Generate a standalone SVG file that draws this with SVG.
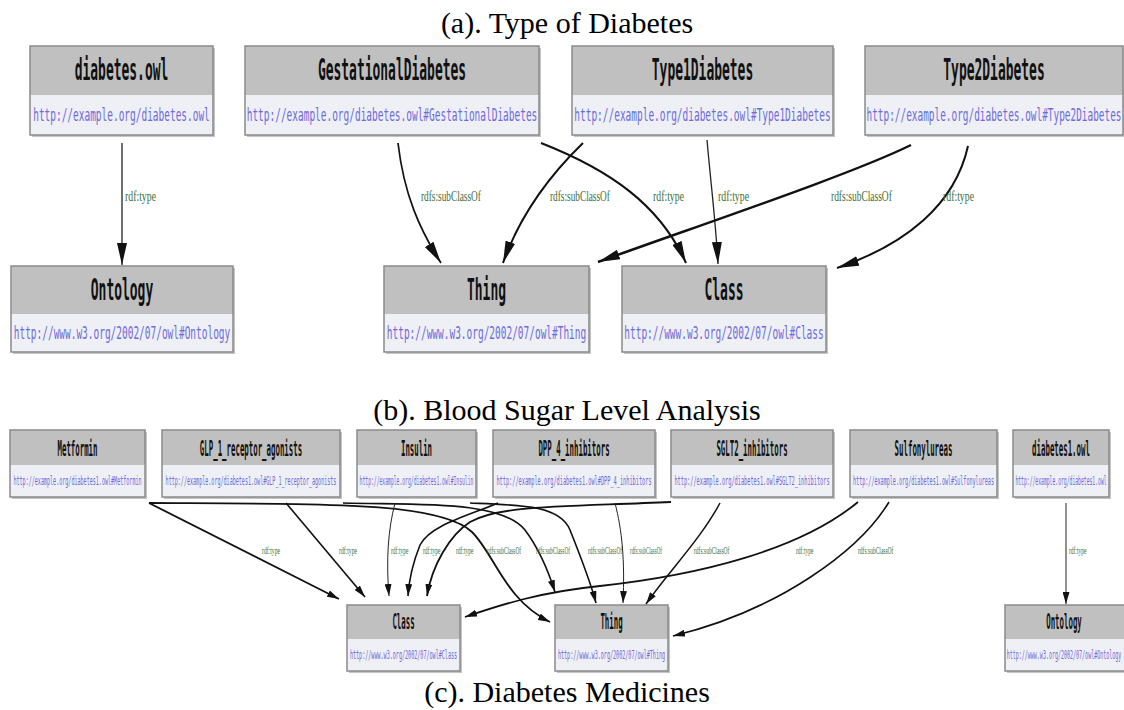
<svg xmlns="http://www.w3.org/2000/svg" width="1124" height="710" viewBox="0 0 1124 710">
<defs>
<style>
.sh{fill:#c4c4c4}
.hb{fill:#c0c0c0}
.ub{fill:#efeff6}
.bx{fill:none;stroke:#8a8a8a;stroke-width:1.5}
.ht{font-family:"DejaVu Sans Mono","Liberation Mono",monospace;font-weight:bold;fill:#111;text-anchor:middle}
.h1{font-size:31px}
.h2{font-size:21px}
.ut{font-family:"DejaVu Sans Mono","Liberation Mono",monospace;fill:#6c6cd8;text-anchor:middle}
.u1{font-size:18px}
.u2{font-size:13px}
.el{font-family:"Liberation Serif","Times New Roman",serif;fill:#3d6e3d}
.l1{font-size:15px}
.l2{font-size:11px}
.e{fill:none;stroke:#111;stroke-width:2}
.et{fill:none;stroke:#222;stroke-width:1.3}
.ttl{font-family:"Liberation Serif","Times New Roman",serif;font-size:30px;fill:#000;text-anchor:middle}
</style>
<marker id="aL" viewBox="0 0 22 10" refX="22" refY="5" markerWidth="22" markerHeight="10" markerUnits="userSpaceOnUse" orient="auto"><path d="M0,0 L22,5 L0,10 z" fill="#111"/></marker>
<marker id="aS" viewBox="0 0 12 7" refX="12" refY="3.5" markerWidth="12" markerHeight="7" markerUnits="userSpaceOnUse" orient="auto"><path d="M0,0 L12,3.5 L0,7 z" fill="#111"/></marker>
</defs>
<rect width="1124" height="710" fill="#fff"/>

<text class="ttl" x="567" y="33">(a). Type of Diabetes</text>
<text class="ttl" x="567" y="420">(b). Blood Sugar Level Analysis</text>
<text class="ttl" x="567" y="702">(c). Diabetes Medicines</text>

<!-- (a) nodes -->
<g id="a-diabetes-owl">
<rect class="sh" x="32" y="48" width="183" height="89"/><rect class="hb" x="30" y="46" width="183" height="49"/><rect class="ub" x="30" y="95" width="183" height="40"/><rect class="bx" x="30" y="46" width="183" height="89"/>
<text class="ht h1" transform="translate(121.5,80) scale(0.418,1)">diabetes.owl</text>
<text class="ut u1" transform="translate(121.5,121) scale(0.526,1)">http://example.org/diabetes.owl</text>
</g>
<g id="a-gestational">
<rect class="sh" x="247" y="48" width="294" height="89"/><rect class="hb" x="245" y="46" width="294" height="49"/><rect class="ub" x="245" y="95" width="294" height="40"/><rect class="bx" x="245" y="46" width="294" height="89"/>
<text class="ht h1" transform="translate(392,80) scale(0.418,1)">GestationalDiabetes</text>
<text class="ut u1" transform="translate(392,121) scale(0.526,1)">http://example.org/diabetes.owl#GestationalDiabetes</text>
</g>
<g id="a-type1">
<rect class="sh" x="574" y="48" width="261" height="89"/><rect class="hb" x="572" y="46" width="261" height="49"/><rect class="ub" x="572" y="95" width="261" height="40"/><rect class="bx" x="572" y="46" width="261" height="89"/>
<text class="ht h1" transform="translate(702.5,80) scale(0.418,1)">Type1Diabetes</text>
<text class="ut u1" transform="translate(702.5,121) scale(0.526,1)">http://example.org/diabetes.owl#Type1Diabetes</text>
</g>
<g id="a-type2">
<rect class="sh" x="867" y="48" width="258" height="89"/><rect class="hb" x="865" y="46" width="258" height="49"/><rect class="ub" x="865" y="95" width="258" height="40"/><rect class="bx" x="865" y="46" width="258" height="89"/>
<text class="ht h1" transform="translate(994,80) scale(0.418,1)">Type2Diabetes</text>
<text class="ut u1" transform="translate(994,121) scale(0.523,1)">http://example.org/diabetes.owl#Type2Diabetes</text>
</g>
<g id="a-ontology">
<rect class="sh" x="13" y="268" width="222" height="86"/><rect class="hb" x="11" y="266" width="222" height="48"/><rect class="ub" x="11" y="314" width="222" height="38"/><rect class="bx" x="11" y="266" width="222" height="86"/>
<text class="ht h1" transform="translate(122,300) scale(0.418,1)">Ontology</text>
<text class="ut u1" transform="translate(122,339) scale(0.526,1)">http://www.w3.org/2002/07/owl#Ontology</text>
</g>
<g id="a-thing">
<rect class="sh" x="386" y="268" width="205" height="86"/><rect class="hb" x="384" y="266" width="205" height="48"/><rect class="ub" x="384" y="314" width="205" height="38"/><rect class="bx" x="384" y="266" width="205" height="86"/>
<text class="ht h1" transform="translate(486.5,300) scale(0.418,1)">Thing</text>
<text class="ut u1" transform="translate(486.5,339) scale(0.526,1)">http://www.w3.org/2002/07/owl#Thing</text>
</g>
<g id="a-class">
<rect class="sh" x="624" y="268" width="204" height="86"/><rect class="hb" x="622" y="266" width="204" height="48"/><rect class="ub" x="622" y="314" width="204" height="38"/><rect class="bx" x="622" y="266" width="204" height="86"/>
<text class="ht h1" transform="translate(724,300) scale(0.418,1)">Class</text>
<text class="ut u1" transform="translate(724,339) scale(0.526,1)">http://www.w3.org/2002/07/owl#Class</text>
</g>

<!-- (a) connectors -->
<g id="a-edges">
<path class="et" d="M122,143 L122,265" marker-end="url(#aL)"/>
<path class="e" style="stroke-width:1.7" d="M398,143 C404,195 420,230 441,263" marker-end="url(#aL)"/>
<path class="e" d="M541,143 C610,170 660,205 686,263" marker-end="url(#aL)"/>
<path class="e" d="M583,143 C550,175 520,215 503,263" marker-end="url(#aL)"/>
<path class="et" d="M707,140 C711,185 716,225 718,264" marker-end="url(#aL)"/>
<path class="e" style="stroke-width:2.4" d="M911,145 C850,175 700,225 598,262" marker-end="url(#aL)"/>
<path class="e" d="M968,146 C955,205 905,245 837,268" marker-end="url(#aL)"/>
<text class="el l1" transform="translate(125,201) scale(0.653,1)">rdf:type</text>
<text class="el l1" transform="translate(421,201) scale(0.62,1)">rdfs:subClassOf</text>
<text class="el l1" transform="translate(550,201) scale(0.62,1)">rdfs:subClassOf</text>
<text class="el l1" transform="translate(653,201) scale(0.653,1)">rdf:type</text>
<text class="el l1" transform="translate(718,201) scale(0.653,1)">rdf:type</text>
<text class="el l1" transform="translate(831,201) scale(0.63,1)">rdfs:subClassOf</text>
<text class="el l1" transform="translate(943,201) scale(0.653,1)">rdf:type</text>
</g>

<!-- (b)/(c) nodes -->
<g id="b-metformin">
<rect class="sh" x="12" y="432" width="135" height="67"/><rect class="hb" x="10" y="430" width="135" height="35"/><rect class="ub" x="10" y="465" width="135" height="32"/><rect class="bx" x="10" y="430" width="135" height="67"/>
<text class="ht h2" transform="translate(77.5,456) scale(0.352,1)">Metformin</text>
<text class="ut u2" transform="translate(77.5,485) scale(0.39,1)">http://example.org/diabetes1.owl#Metformin</text>
</g>
<g id="b-glp">
<rect class="sh" x="164" y="432" width="178" height="67"/><rect class="hb" x="162" y="430" width="178" height="35"/><rect class="ub" x="162" y="465" width="178" height="32"/><rect class="bx" x="162" y="430" width="178" height="67"/>
<text class="ht h2" transform="translate(251,456) scale(0.352,1)">GLP_1_receptor_agonists</text>
<text class="ut u2" transform="translate(251,485) scale(0.39,1)">http://example.org/diabetes1.owl#GLP_1_receptor_agonists</text>
</g>
<g id="b-insulin">
<rect class="sh" x="359" y="432" width="119" height="67"/><rect class="hb" x="357" y="430" width="119" height="35"/><rect class="ub" x="357" y="465" width="119" height="32"/><rect class="bx" x="357" y="430" width="119" height="67"/>
<text class="ht h2" transform="translate(416.5,456) scale(0.352,1)">Insulin</text>
<text class="ut u2" transform="translate(416.5,485) scale(0.364,1)">http://example.org/diabetes1.owl#Insulin</text>
</g>
<g id="b-dpp">
<rect class="sh" x="495" y="432" width="162" height="67"/><rect class="hb" x="493" y="430" width="162" height="35"/><rect class="ub" x="493" y="465" width="162" height="32"/><rect class="bx" x="493" y="430" width="162" height="67"/>
<text class="ht h2" transform="translate(574,456) scale(0.352,1)">DPP_4_inhibitors</text>
<text class="ut u2" transform="translate(574,485) scale(0.405,1)">http://example.org/diabetes1.owl#DPP_4_inhibitors</text>
</g>
<g id="b-sglt2">
<rect class="sh" x="673" y="432" width="162" height="67"/><rect class="hb" x="671" y="430" width="162" height="35"/><rect class="ub" x="671" y="465" width="162" height="32"/><rect class="bx" x="671" y="430" width="162" height="67"/>
<text class="ht h2" transform="translate(752,456) scale(0.352,1)">SGLT2_inhibitors</text>
<text class="ut u2" transform="translate(752,485) scale(0.405,1)">http://example.org/diabetes1.owl#SGLT2_inhibitors</text>
</g>
<g id="b-sulfonylureas">
<rect class="sh" x="852" y="432" width="147" height="67"/><rect class="hb" x="850" y="430" width="147" height="35"/><rect class="ub" x="850" y="465" width="147" height="32"/><rect class="bx" x="850" y="430" width="147" height="67"/>
<text class="ht h2" transform="translate(923.5,456) scale(0.352,1)">Sulfonylureas</text>
<text class="ut u2" transform="translate(923.5,485) scale(0.392,1)">http://example.org/diabetes1.owl#Sulfonylureas</text>
</g>
<g id="b-diabetes1-owl">
<rect class="sh" x="1015" y="432" width="96" height="67"/><rect class="hb" x="1013" y="430" width="96" height="35"/><rect class="ub" x="1013" y="465" width="96" height="32"/><rect class="bx" x="1013" y="430" width="96" height="67"/>
<text class="ht h2" transform="translate(1061,456) scale(0.352,1)">diabetes1.owl</text>
<text class="ut u2" transform="translate(1061,485) scale(0.365,1)">http://example.org/diabetes1.owl</text>
</g>
<g id="c-class">
<rect class="sh" x="349" y="607" width="113" height="66"/><rect class="hb" x="347" y="605" width="113" height="34"/><rect class="ub" x="347" y="639" width="113" height="32"/><rect class="bx" x="347" y="605" width="113" height="66"/>
<text class="ht h2" transform="translate(403.5,629) scale(0.352,1)">Class</text>
<text class="ut u2" transform="translate(403.5,659) scale(0.392,1)">http://www.w3.org/2002/07/owl#Class</text>
</g>
<g id="c-thing">
<rect class="sh" x="557" y="607" width="113" height="66"/><rect class="hb" x="555" y="605" width="113" height="34"/><rect class="ub" x="555" y="639" width="113" height="32"/><rect class="bx" x="555" y="605" width="113" height="66"/>
<text class="ht h2" transform="translate(611.5,629) scale(0.352,1)">Thing</text>
<text class="ut u2" transform="translate(611.5,659) scale(0.392,1)">http://www.w3.org/2002/07/owl#Thing</text>
</g>
<g id="c-ontology">
<rect class="sh" x="1007" y="607" width="122" height="66"/><rect class="hb" x="1005" y="605" width="122" height="34"/><rect class="ub" x="1005" y="639" width="122" height="32"/><rect class="bx" x="1005" y="605" width="122" height="66"/>
<text class="ht h2" transform="translate(1064,629) scale(0.352,1)">Ontology</text>
<text class="ut u2" transform="translate(1064,659) scale(0.385,1)">http://www.w3.org/2002/07/owl#Ontology</text>
</g>

<!-- (b)/(c) connectors -->
<g id="b-edges">
<path class="e" style="stroke-width:1.8" d="M149,503 L339,599" marker-end="url(#aS)"/>
<path class="e" style="stroke-width:1.8" d="M149,503 C330,504 440,502 472,532 C495,555 505,600 550,622" marker-end="url(#aS)"/>
<path class="e" style="stroke-width:1.6" d="M286,503 L365,597" marker-end="url(#aS)"/>
<path class="e" style="stroke-width:1.6" d="M343,503 C420,505 500,500 525,530 C540,550 548,570 555,592" marker-end="url(#aS)"/>
<path class="et" style="stroke-width:1" d="M395,503 C388,530 386,560 389,596" marker-end="url(#aS)"/>
<path class="e" style="stroke-width:1.6" d="M470,503 C520,505 560,505 570,530 C580,555 590,580 596,603" marker-end="url(#aS)"/>
<path class="e" style="stroke-width:1.6" d="M498,503 C470,515 430,525 420,545 C412,565 409,580 408,596" marker-end="url(#aS)"/>
<path class="e" style="stroke-width:1.8" d="M671,502 C560,507 500,505 470,522 C450,535 432,565 427,596" marker-end="url(#aS)"/>
<path class="et" style="stroke-width:1" d="M615,503 C622,530 625,560 623,603" marker-end="url(#aS)"/>
<path class="e" style="stroke-width:1.5" d="M720,503 C700,540 670,570 646,604" marker-end="url(#aS)"/>
<path class="e" style="stroke-width:1.8" d="M858,502 C800,550 700,575 600,586 C540,592 500,605 465,617" marker-end="url(#aS)"/>
<path class="e" style="stroke-width:1.6" d="M889,502 C860,550 780,610 673,636" marker-end="url(#aS)"/>
<path class="et" style="stroke-width:1" d="M1066,503 L1066,604" marker-end="url(#aS)"/>
<text class="el l2" transform="translate(262,554) scale(0.52,1)">rdf:type</text>
<text class="el l2" transform="translate(339,554) scale(0.52,1)">rdf:type</text>
<text class="el l2" transform="translate(391,554) scale(0.5,1)">rdf:type</text>
<text class="el l2" transform="translate(423,554) scale(0.5,1)">rdf:type</text>
<text class="el l2" transform="translate(456,554) scale(0.5,1)">rdf:type</text>
<text class="el l2" transform="translate(487,554) scale(0.48,1)">rdfs:subClassOf</text>
<text class="el l2" transform="translate(536,554) scale(0.48,1)">rdfs:subClassOf</text>
<text class="el l2" transform="translate(588,554) scale(0.48,1)">rdfs:subClassOf</text>
<text class="el l2" transform="translate(630,554) scale(0.45,1)">rdfs:subClassOf</text>
<text class="el l2" transform="translate(694,554) scale(0.5,1)">rdfs:subClassOf</text>
<text class="el l2" transform="translate(796,554) scale(0.5,1)">rdf:type</text>
<text class="el l2" transform="translate(858,554) scale(0.5,1)">rdfs:subClassOf</text>
<text class="el l2" transform="translate(1069,554) scale(0.5,1)">rdf:type</text>
</g>
</svg>
